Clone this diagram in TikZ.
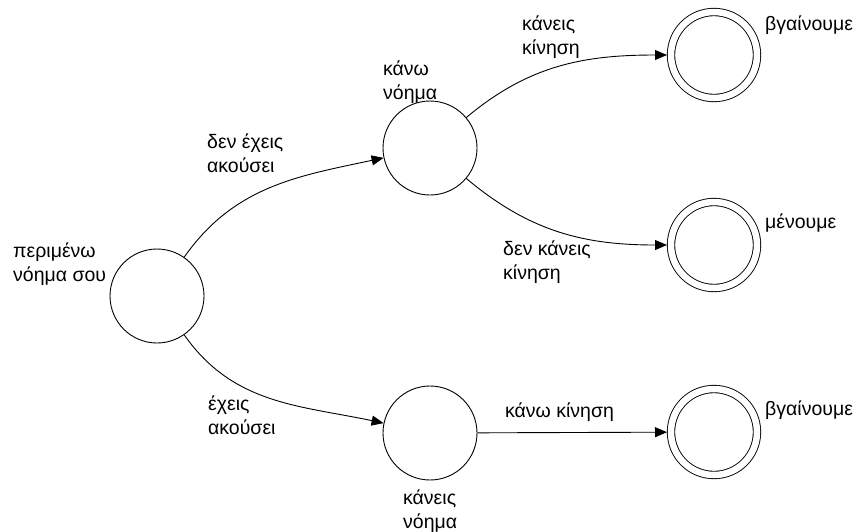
\documentclass[tikz,border=0pt]{standalone}
\usepackage{fontspec}
\setmainfont{Liberation Sans}
\usetikzlibrary{arrows.meta}
\begin{document}
\begin{tikzpicture}[x=1pt,y=-1pt,
  every node/.style={font=\fontsize{19.5}{23.5}\selectfont},
  state/.style={draw, circle, line width=0.9pt, minimum size=94pt, inner sep=0pt},
  final/.style={draw, circle, line width=0.9pt, double, double distance=6.5pt,
                minimum size=86pt, inner sep=0pt, outer sep=4pt},
  lbl/.style={anchor=west, align=left, inner sep=0pt},
  edge/.style={line width=0.9pt, -{Triangle[length=12pt,width=10pt]}}]
  \useasboundingbox (0,0) rectangle (855,531);

  % states
  \node[state] (s)  at (157,296) {};
  \node[state] (km) at (430,148) {};
  \node[state] (kn) at (430,433) {};
  \node[final] (f1) at (714,55) {};
  \node[final] (f2) at (714,245) {};
  \node[final] (f3) at (714,432) {};

  % state names
  \node[lbl] (ls)  at (13,264)  {περιμένω\\νόημα σου};
  \node[lbl] (lkm) at (383,82)  {κάνω\\νόημα};
  \node[lbl] (lkn) at (403,511) {κάνεις\\νόημα};
  \node[lbl] (lf1) at (765,25)  {βγαίνουμε};
  \node[lbl] (lf2) at (765,223) {μένουμε};
  \node[lbl] (lf3) at (765,410) {βγαίνουμε};

  % transitions
  \draw[edge] (s) to[out=55,in=192] (km);
  \draw[edge] (s) to[out=-55,in=168] (kn);
  \draw[edge] (km) to[out=40,in=180] (f1);
  \draw[edge] (km) to[out=-40,in=180] (f2);
  \draw[edge] (kn) -- (f3);

  % transition labels
  \node[lbl] (e1) at (207,153) {δεν έχεις\\ακούσει};
  \node[lbl] (e2) at (208,415) {έχεις\\ακούσει};
  \node[lbl] (e3) at (522,37)  {κάνεις\\κίνηση};
  \node[lbl] (e4) at (503,262) {δεν κάνεις\\κίνηση};
  \node[lbl] (e5) at (505,412) {κάνω κίνηση};
\end{tikzpicture}
\end{document}
